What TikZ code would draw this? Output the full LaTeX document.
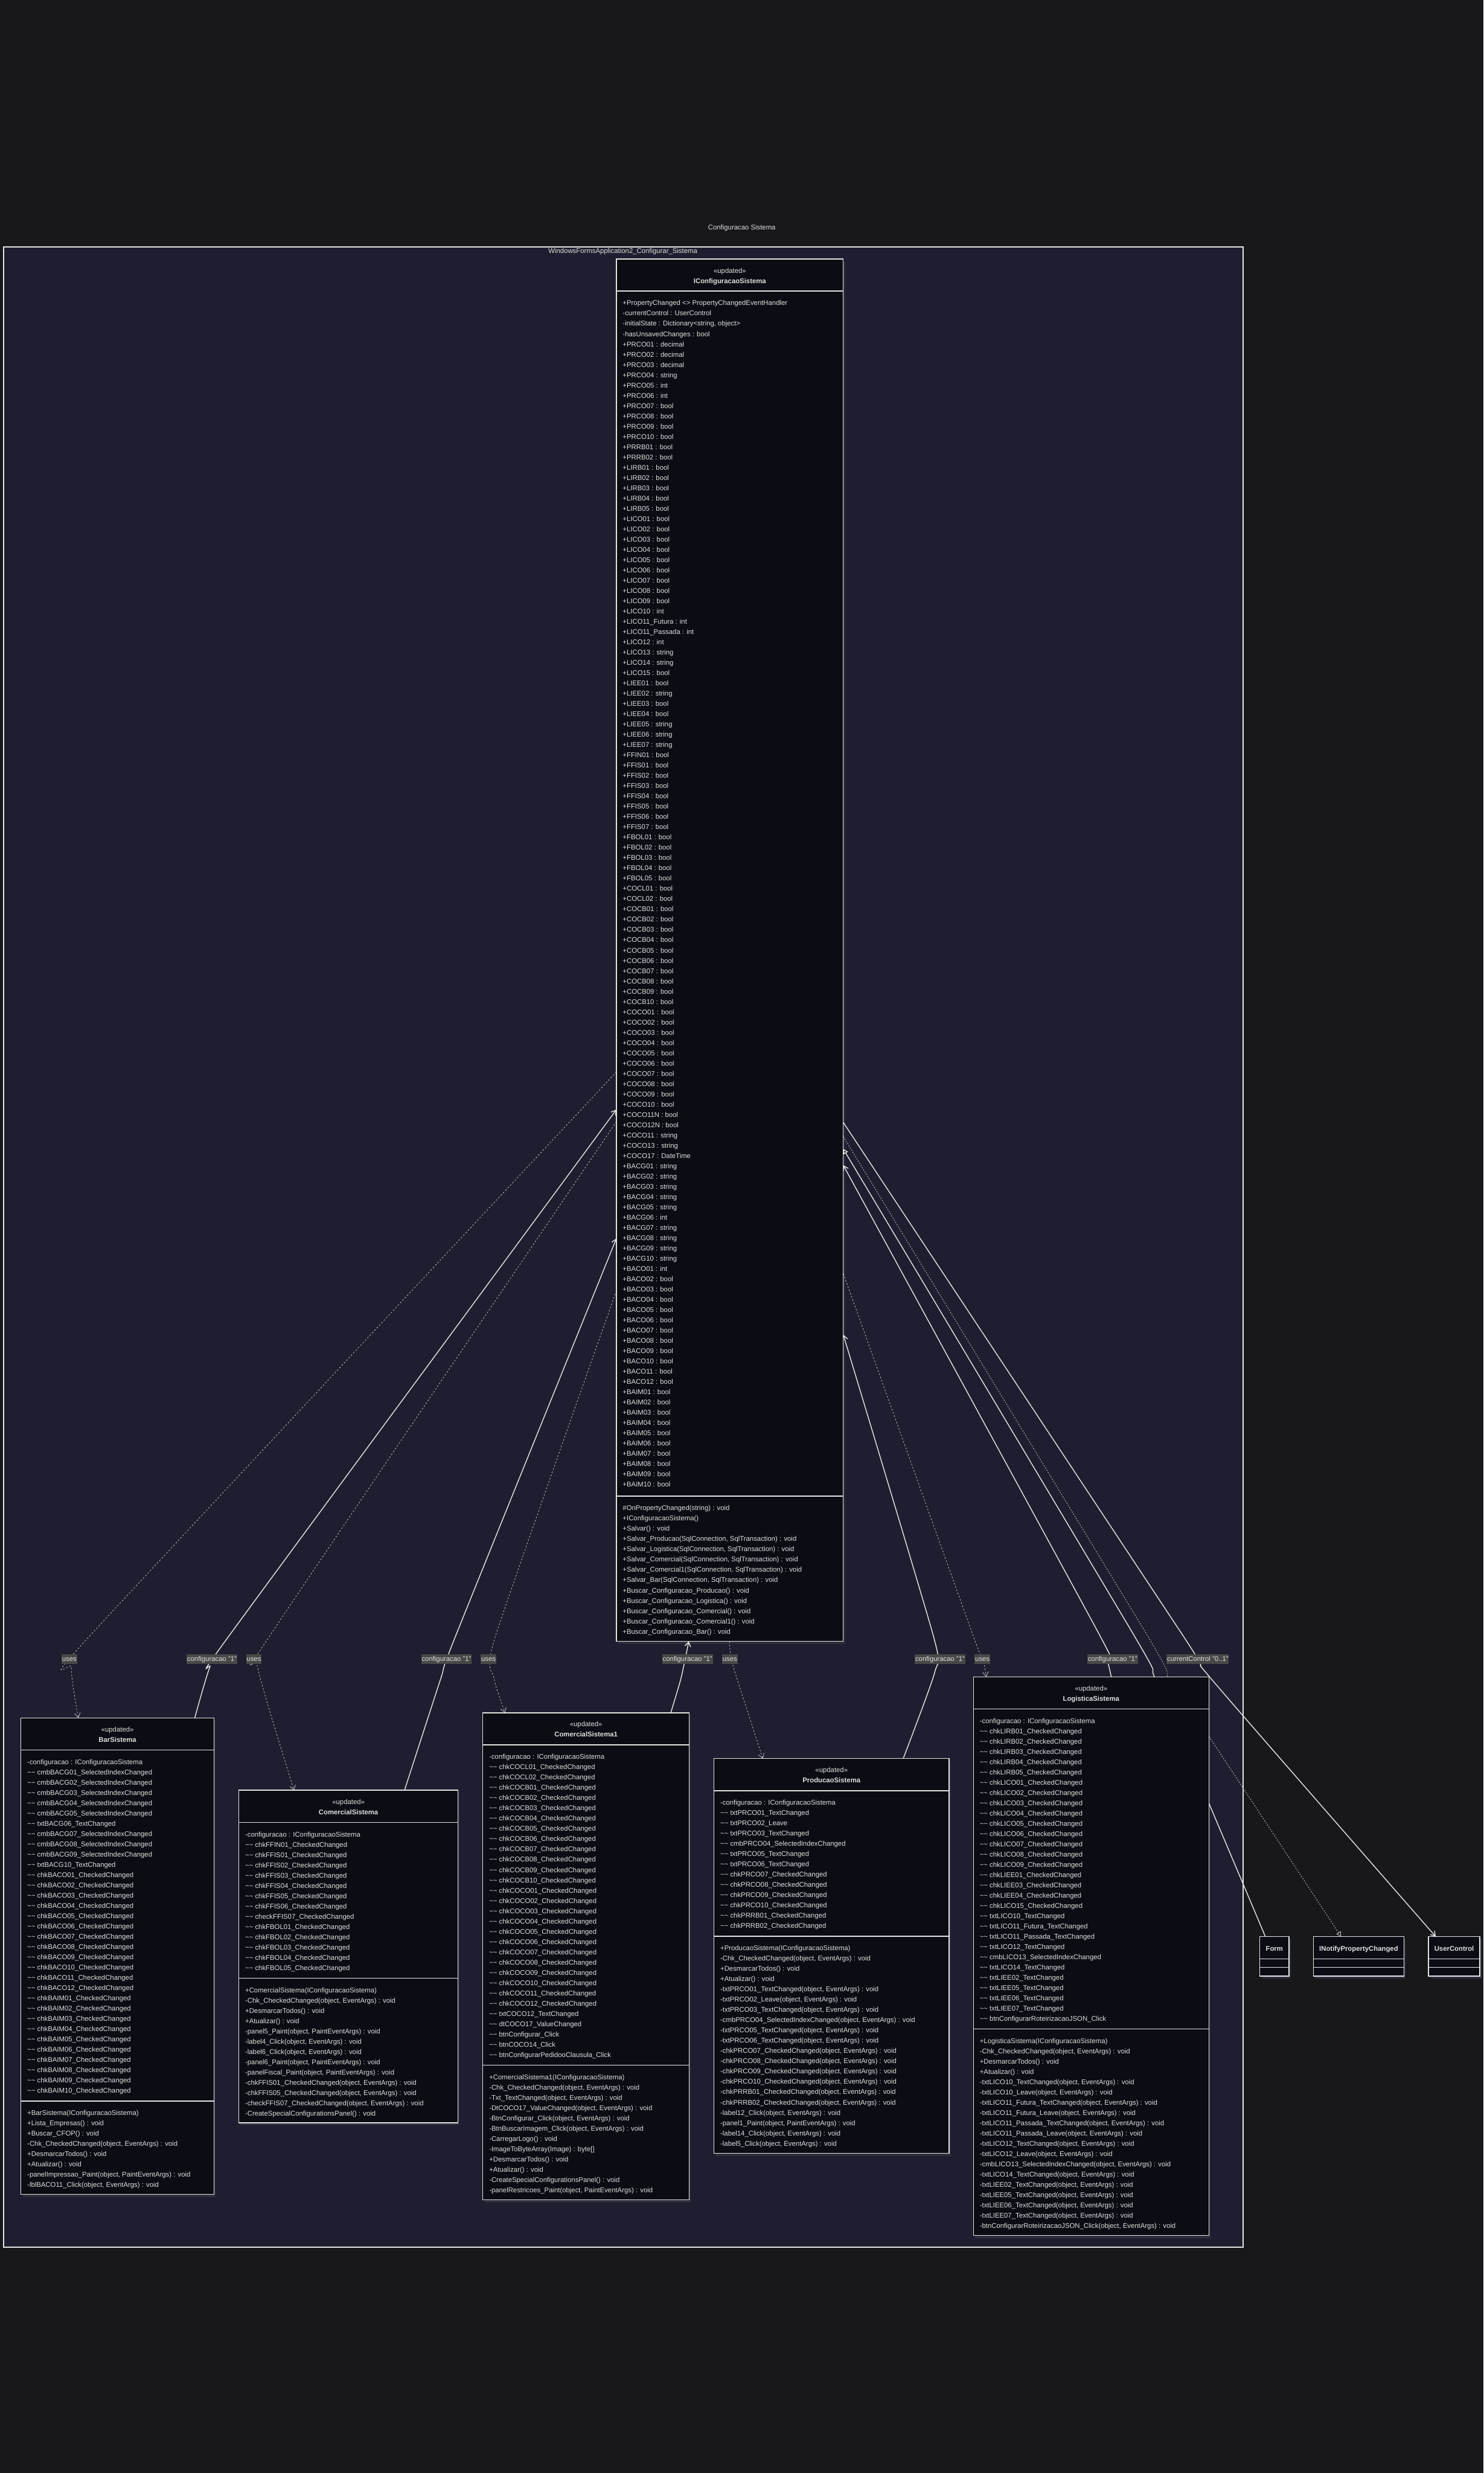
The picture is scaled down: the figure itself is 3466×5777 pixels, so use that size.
\documentclass[tikz,border=0pt]{standalone}
\usepackage{fontspec}
\setmainfont{Liberation Sans}
\usetikzlibrary{arrows.meta}
\pgfdeclarelayer{bgl}
\pgfdeclarelayer{shl}
\pgfdeclarelayer{edl}
\pgfsetlayers{bgl,shl,edl,main}
\definecolor{bgc}{RGB}{24,24,27}
\definecolor{pkgc}{RGB}{30,30,48}
\definecolor{clsc}{RGB}{12,13,20}
\definecolor{lnc}{RGB}{228,228,228}
\definecolor{dpc}{RGB}{200,200,205}
\definecolor{txc}{RGB}{222,222,222}
\definecolor{lblc}{RGB}{72,72,72}
\definecolor{shc}{RGB}{46,46,60}
\newcommand\tld{\textasciitilde\textasciitilde\ }
\newcommand\umlclass[9]{%
 \begin{pgfonlayer}{shl}\fill[shc] (#2+4,#4+6) rectangle (#3+4,#6+6);\end{pgfonlayer}
 \node[clsbox,anchor=north west,minimum width={(#3-#2)*0.25pt},minimum height={(#6-#4)*0.25pt}] (#1) at (#2,#4) {};
 \draw[clsline] (#2,#4+75) -- (#3,#4+75);
 \draw[clsline] (#2,#5) -- (#3,#5);
 \node[txt,anchor=north] (#1-h) at ({(#2+#3)/2},#4+15) {\begin{tabular}{@{}c@{}}«updated»\\\textbf{#7}\end{tabular}};
 \node[txt,anchor=north west] (#1-a) at (#2+14,#4+91) {\begin{tabular}{@{}l@{}}#8\end{tabular}};
 \node[txt,anchor=north west] (#1-m) at (#2+14,#5+16) {\begin{tabular}{@{}l@{}}#9\end{tabular}};
}
\newcommand\simplecls[4]{%
 \begin{pgfonlayer}{shl}\fill[shc] (#2+4,4530) rectangle (#3+4,4622);\end{pgfonlayer}
 \node[clsbox,anchor=north west,minimum width={(#3-#2)*0.25pt},minimum height={92*0.25pt}] (#1) at (#2,4524) {};
 \draw[clsline] (#2,4576) -- (#3,4576);
 \draw[clsline] (#2,4596) -- (#3,4596);
 \node[txt,anchor=base] (#1-h) at ({(#2+#3)/2},4557) {\textbf{#4}};
}
\begin{document}
\begin{tikzpicture}[x=0.25pt,y=-0.25pt,
 clsbox/.style={draw=lnc,fill=clsc,line width=0.5pt,inner sep=0pt,outer sep=0pt},
 clsline/.style={draw=lnc,line width=0.5pt},
 txt/.style={font=\fontsize{4}{6}\selectfont,text=txc,inner sep=0pt},
 lbl/.style={fill=lblc,text=txc,font=\fontsize{4}{6}\selectfont,inner xsep=0.3pt,inner ysep=0.75pt,text height=3pt,text depth=1pt},
 assoc/.style={draw=lnc,line width=0.5pt,-{Straight Barb[length=2.6pt,width=3.4pt]}},
 dep/.style={draw=dpc,line width=0.28pt,dash pattern=on 0.9pt off 1.1pt,-{Straight Barb[length=2.6pt,width=3.4pt]}},
 real/.style={draw=dpc,line width=0.3pt,dash pattern=on 0.7pt off 0.8pt,-{Triangle[open,length=2.8pt,width=3pt,fill=bgc]}},
 gen/.style={draw=lnc,line width=0.5pt}]
\useasboundingbox (0,0) rectangle (3466,5777);
\begin{pgfonlayer}{bgl}
\fill[bgc] (0,0) rectangle (3466,5777);
\node[draw=lnc,fill=pkgc,line width=0.6pt,anchor=north west,inner sep=0pt,minimum width={(2903-7)*0.25pt},minimum height={(5248-576)*0.25pt}] (pkg) at (7,576) {};
\end{pgfonlayer}
\node[txt] (title) at (1733,533) {Configuracao Sistema};
\node[txt] (pkgname) at (1455,588) {WindowsFormsApplication2\_Configurar\_Sistema};

\umlclass{iconf}{1440}{1970}{605}{3495}{3834}{IConfiguracaoSistema}{%
+PropertyChanged <> PropertyChangedEventHandler\\
-currentControl : UserControl\\
-initialState : Dictionary<string, object>\\
-hasUnsavedChanges : bool\\
+PRCO01 : decimal\\ +PRCO02 : decimal\\ +PRCO03 : decimal\\ +PRCO04 : string\\
+PRCO05 : int\\ +PRCO06 : int\\ +PRCO07 : bool\\ +PRCO08 : bool\\ +PRCO09 : bool\\ +PRCO10 : bool\\
+PRRB01 : bool\\ +PRRB02 : bool\\
+LIRB01 : bool\\ +LIRB02 : bool\\ +LIRB03 : bool\\ +LIRB04 : bool\\ +LIRB05 : bool\\
+LICO01 : bool\\ +LICO02 : bool\\ +LICO03 : bool\\ +LICO04 : bool\\ +LICO05 : bool\\
+LICO06 : bool\\ +LICO07 : bool\\ +LICO08 : bool\\ +LICO09 : bool\\
+LICO10 : int\\ +LICO11\_Futura : int\\ +LICO11\_Passada : int\\ +LICO12 : int\\
+LICO13 : string\\ +LICO14 : string\\ +LICO15 : bool\\
+LIEE01 : bool\\ +LIEE02 : string\\ +LIEE03 : bool\\ +LIEE04 : bool\\
+LIEE05 : string\\ +LIEE06 : string\\ +LIEE07 : string\\
+FFIN01 : bool\\
+FFIS01 : bool\\ +FFIS02 : bool\\ +FFIS03 : bool\\ +FFIS04 : bool\\ +FFIS05 : bool\\ +FFIS06 : bool\\ +FFIS07 : bool\\
+FBOL01 : bool\\ +FBOL02 : bool\\ +FBOL03 : bool\\ +FBOL04 : bool\\ +FBOL05 : bool\\
+COCL01 : bool\\ +COCL02 : bool\\
+COCB01 : bool\\ +COCB02 : bool\\ +COCB03 : bool\\ +COCB04 : bool\\ +COCB05 : bool\\
+COCB06 : bool\\ +COCB07 : bool\\ +COCB08 : bool\\ +COCB09 : bool\\ +COCB10 : bool\\
+COCO01 : bool\\ +COCO02 : bool\\ +COCO03 : bool\\ +COCO04 : bool\\ +COCO05 : bool\\
+COCO06 : bool\\ +COCO07 : bool\\ +COCO08 : bool\\ +COCO09 : bool\\ +COCO10 : bool\\
+COCO11N : bool\\ +COCO12N : bool\\ +COCO11 : string\\ +COCO13 : string\\ +COCO17 : DateTime\\
+BACG01 : string\\ +BACG02 : string\\ +BACG03 : string\\ +BACG04 : string\\ +BACG05 : string\\
+BACG06 : int\\ +BACG07 : string\\ +BACG08 : string\\ +BACG09 : string\\ +BACG10 : string\\
+BACO01 : int\\ +BACO02 : bool\\ +BACO03 : bool\\ +BACO04 : bool\\ +BACO05 : bool\\ +BACO06 : bool\\
+BACO07 : bool\\ +BACO08 : bool\\ +BACO09 : bool\\ +BACO10 : bool\\ +BACO11 : bool\\ +BACO12 : bool\\
+BAIM01 : bool\\ +BAIM02 : bool\\ +BAIM03 : bool\\ +BAIM04 : bool\\ +BAIM05 : bool\\
+BAIM06 : bool\\ +BAIM07 : bool\\ +BAIM08 : bool\\ +BAIM09 : bool\\ +BAIM10 : bool}{%
\#OnPropertyChanged(string) : void\\
+IConfiguracaoSistema()\\
+Salvar() : void\\
+Salvar\_Producao(SqlConnection, SqlTransaction) : void\\
+Salvar\_Logistica(SqlConnection, SqlTransaction) : void\\
+Salvar\_Comercial(SqlConnection, SqlTransaction) : void\\
+Salvar\_Comercial1(SqlConnection, SqlTransaction) : void\\
+Salvar\_Bar(SqlConnection, SqlTransaction) : void\\
+Buscar\_Configuracao\_Producao() : void\\
+Buscar\_Configuracao\_Logistica() : void\\
+Buscar\_Configuracao\_Comercial() : void\\
+Buscar\_Configuracao\_Comercial1() : void\\
+Buscar\_Configuracao\_Bar() : void}

\umlclass{bar}{49}{500}{4013}{4908}{5126}{BarSistema}{%
-configuracao : IConfiguracaoSistema\\
\tld cmbBACG01\_SelectedIndexChanged\\
\tld cmbBACG02\_SelectedIndexChanged\\
\tld cmbBACG03\_SelectedIndexChanged\\
\tld cmbBACG04\_SelectedIndexChanged\\
\tld cmbBACG05\_SelectedIndexChanged\\
\tld txtBACG06\_TextChanged\\
\tld cmbBACG07\_SelectedIndexChanged\\
\tld cmbBACG08\_SelectedIndexChanged\\
\tld cmbBACG09\_SelectedIndexChanged\\
\tld txtBACG10\_TextChanged\\
\tld chkBACO01\_CheckedChanged\\ \tld chkBACO02\_CheckedChanged\\ \tld chkBACO03\_CheckedChanged\\
\tld chkBACO04\_CheckedChanged\\ \tld chkBACO05\_CheckedChanged\\ \tld chkBACO06\_CheckedChanged\\
\tld chkBACO07\_CheckedChanged\\ \tld chkBACO08\_CheckedChanged\\ \tld chkBACO09\_CheckedChanged\\
\tld chkBACO10\_CheckedChanged\\ \tld chkBACO11\_CheckedChanged\\ \tld chkBACO12\_CheckedChanged\\
\tld chkBAIM01\_CheckedChanged\\ \tld chkBAIM02\_CheckedChanged\\ \tld chkBAIM03\_CheckedChanged\\
\tld chkBAIM04\_CheckedChanged\\ \tld chkBAIM05\_CheckedChanged\\ \tld chkBAIM06\_CheckedChanged\\
\tld chkBAIM07\_CheckedChanged\\ \tld chkBAIM08\_CheckedChanged\\ \tld chkBAIM09\_CheckedChanged\\
\tld chkBAIM10\_CheckedChanged}{%
+BarSistema(IConfiguracaoSistema)\\
+Lista\_Empresas() : void\\
+Buscar\_CFOP() : void\\
-Chk\_CheckedChanged(object, EventArgs) : void\\
+DesmarcarTodos() : void\\
+Atualizar() : void\\
-panelImpressao\_Paint(object, PaintEventArgs) : void\\
-lblBACO11\_Click(object, EventArgs) : void}

\umlclass{com}{558}{1070}{4182}{4621}{4959}{ComercialSistema}{%
-configuracao : IConfiguracaoSistema\\
\tld chkFFIN01\_CheckedChanged\\
\tld chkFFIS01\_CheckedChanged\\ \tld chkFFIS02\_CheckedChanged\\ \tld chkFFIS03\_CheckedChanged\\
\tld chkFFIS04\_CheckedChanged\\ \tld chkFFIS05\_CheckedChanged\\ \tld chkFFIS06\_CheckedChanged\\
\tld checkFFIS07\_CheckedChanged\\
\tld chkFBOL01\_CheckedChanged\\ \tld chkFBOL02\_CheckedChanged\\ \tld chkFBOL03\_CheckedChanged\\
\tld chkFBOL04\_CheckedChanged\\ \tld chkFBOL05\_CheckedChanged}{%
+ComercialSistema(IConfiguracaoSistema)\\
-Chk\_CheckedChanged(object, EventArgs) : void\\
+DesmarcarTodos() : void\\
+Atualizar() : void\\
-panel5\_Paint(object, PaintEventArgs) : void\\
-label4\_Click(object, EventArgs) : void\\
-label6\_Click(object, EventArgs) : void\\
-panel6\_Paint(object, PaintEventArgs) : void\\
-panelFiscal\_Paint(object, PaintEventArgs) : void\\
-chkFFIS01\_CheckedChanged(object, EventArgs) : void\\
-chkFFIS05\_CheckedChanged(object, EventArgs) : void\\
-checkFFIS07\_CheckedChanged(object, EventArgs) : void\\
-CreateSpecialConfigurationsPanel() : void}

\umlclass{comu}{1128}{1610}{4001}{4824}{5139}{ComercialSistema1}{%
-configuracao : IConfiguracaoSistema\\
\tld chkCOCL01\_CheckedChanged\\ \tld chkCOCL02\_CheckedChanged\\
\tld chkCOCB01\_CheckedChanged\\ \tld chkCOCB02\_CheckedChanged\\ \tld chkCOCB03\_CheckedChanged\\
\tld chkCOCB04\_CheckedChanged\\ \tld chkCOCB05\_CheckedChanged\\ \tld chkCOCB06\_CheckedChanged\\
\tld chkCOCB07\_CheckedChanged\\ \tld chkCOCB08\_CheckedChanged\\ \tld chkCOCB09\_CheckedChanged\\
\tld chkCOCB10\_CheckedChanged\\
\tld chkCOCO01\_CheckedChanged\\ \tld chkCOCO02\_CheckedChanged\\ \tld chkCOCO03\_CheckedChanged\\
\tld chkCOCO04\_CheckedChanged\\ \tld chkCOCO05\_CheckedChanged\\ \tld chkCOCO06\_CheckedChanged\\
\tld chkCOCO07\_CheckedChanged\\ \tld chkCOCO08\_CheckedChanged\\ \tld chkCOCO09\_CheckedChanged\\
\tld chkCOCO10\_CheckedChanged\\ \tld chkCOCO11\_CheckedChanged\\ \tld chkCOCO12\_CheckedChanged\\
\tld txtCOCO12\_TextChanged\\
\tld dtCOCO17\_ValueChanged\\
\tld btnConfigurar\_Click\\
\tld btnCOCO14\_Click\\
\tld btnConfigurarPedidooClausula\_Click}{%
+ComercialSistema1(IConfiguracaoSistema)\\
-Chk\_CheckedChanged(object, EventArgs) : void\\
-Txt\_TextChanged(object, EventArgs) : void\\
-DtCOCO17\_ValueChanged(object, EventArgs) : void\\
-BtnConfigurar\_Click(object, EventArgs) : void\\
-BtnBuscarImagem\_Click(object, EventArgs) : void\\
-CarregarLogo() : void\\
-ImageToByteArray(Image) : byte[]\\
+DesmarcarTodos() : void\\
+Atualizar() : void\\
-CreateSpecialConfigurationsPanel() : void\\
-panelRestricoes\_Paint(object, PaintEventArgs) : void}

\umlclass{prod}{1668}{2217}{4108}{4523}{5030}{ProducaoSistema}{%
-configuracao : IConfiguracaoSistema\\
\tld txtPRCO01\_TextChanged\\
\tld txtPRCO02\_Leave\\
\tld txtPRCO03\_TextChanged\\
\tld cmbPRCO04\_SelectedIndexChanged\\
\tld txtPRCO05\_TextChanged\\
\tld txtPRCO06\_TextChanged\\
\tld chkPRCO07\_CheckedChanged\\ \tld chkPRCO08\_CheckedChanged\\
\tld chkPRCO09\_CheckedChanged\\ \tld chkPRCO10\_CheckedChanged\\
\tld chkPRRB01\_CheckedChanged\\ \tld chkPRRB02\_CheckedChanged}{%
+ProducaoSistema(IConfiguracaoSistema)\\
-Chk\_CheckedChanged(object, EventArgs) : void\\
+DesmarcarTodos() : void\\
+Atualizar() : void\\
-txtPRCO01\_TextChanged(object, EventArgs) : void\\
-txtPRCO02\_Leave(object, EventArgs) : void\\
-txtPRCO03\_TextChanged(object, EventArgs) : void\\
-cmbPRCO04\_SelectedIndexChanged(object, EventArgs) : void\\
-txtPRCO05\_TextChanged(object, EventArgs) : void\\
-txtPRCO06\_TextChanged(object, EventArgs) : void\\
-chkPRCO07\_CheckedChanged(object, EventArgs) : void\\
-chkPRCO08\_CheckedChanged(object, EventArgs) : void\\
-chkPRCO09\_CheckedChanged(object, EventArgs) : void\\
-chkPRCO10\_CheckedChanged(object, EventArgs) : void\\
-chkPRRB01\_CheckedChanged(object, EventArgs) : void\\
-chkPRRB02\_CheckedChanged(object, EventArgs) : void\\
-label12\_Click(object, EventArgs) : void\\
-panel1\_Paint(object, PaintEventArgs) : void\\
-label14\_Click(object, EventArgs) : void\\
-label5\_Click(object, EventArgs) : void}

\umlclass{logi}{2274}{2824}{3917}{4740}{5222}{LogisticaSistema}{%
-configuracao : IConfiguracaoSistema\\
\tld chkLIRB01\_CheckedChanged\\ \tld chkLIRB02\_CheckedChanged\\ \tld chkLIRB03\_CheckedChanged\\
\tld chkLIRB04\_CheckedChanged\\ \tld chkLIRB05\_CheckedChanged\\
\tld chkLICO01\_CheckedChanged\\ \tld chkLICO02\_CheckedChanged\\ \tld chkLICO03\_CheckedChanged\\
\tld chkLICO04\_CheckedChanged\\ \tld chkLICO05\_CheckedChanged\\ \tld chkLICO06\_CheckedChanged\\
\tld chkLICO07\_CheckedChanged\\ \tld chkLICO08\_CheckedChanged\\ \tld chkLICO09\_CheckedChanged\\
\tld chkLIEE01\_CheckedChanged\\ \tld chkLIEE03\_CheckedChanged\\ \tld chkLIEE04\_CheckedChanged\\
\tld chkLICO15\_CheckedChanged\\
\tld txtLICO10\_TextChanged\\
\tld txtLICO11\_Futura\_TextChanged\\
\tld txtLICO11\_Passada\_TextChanged\\
\tld txtLICO12\_TextChanged\\
\tld cmbLICO13\_SelectedIndexChanged\\
\tld txtLICO14\_TextChanged\\
\tld txtLIEE02\_TextChanged\\ \tld txtLIEE05\_TextChanged\\ \tld txtLIEE06\_TextChanged\\
\tld txtLIEE07\_TextChanged\\
\tld btnConfigurarRoteirizacaoJSON\_Click}{%
+LogisticaSistema(IConfiguracaoSistema)\\
-Chk\_CheckedChanged(object, EventArgs) : void\\
+DesmarcarTodos() : void\\
+Atualizar() : void\\
-txtLICO10\_TextChanged(object, EventArgs) : void\\
-txtLICO10\_Leave(object, EventArgs) : void\\
-txtLICO11\_Futura\_TextChanged(object, EventArgs) : void\\
-txtLICO11\_Futura\_Leave(object, EventArgs) : void\\
-txtLICO11\_Passada\_TextChanged(object, EventArgs) : void\\
-txtLICO11\_Passada\_Leave(object, EventArgs) : void\\
-txtLICO12\_TextChanged(object, EventArgs) : void\\
-txtLICO12\_Leave(object, EventArgs) : void\\
-cmbLICO13\_SelectedIndexChanged(object, EventArgs) : void\\
-txtLICO14\_TextChanged(object, EventArgs) : void\\
-txtLIEE02\_TextChanged(object, EventArgs) : void\\
-txtLIEE05\_TextChanged(object, EventArgs) : void\\
-txtLIEE06\_TextChanged(object, EventArgs) : void\\
-txtLIEE07\_TextChanged(object, EventArgs) : void\\
-btnConfigurarRoteirizacaoJSON\_Click(object, EventArgs) : void}

\simplecls{form}{2943}{3011}{Form}
\simplecls{inpc}{3068}{3280}{INotifyPropertyChanged}
\simplecls{uctl}{3337}{3457}{UserControl}

% attachment points
\coordinate (e1s) at (iconf.west |- 0,2504);
\coordinate (e1t) at (183,0 |- bar.north);
\coordinate (e2s) at (455,0 |- bar.north);
\coordinate (e2t) at (iconf.west |- 0,2592);
\coordinate (e3s) at (iconf.west |- 0,2620);
\coordinate (e3t) at (687,0 |- com.north);
\coordinate (e4s) at (945,0 |- com.north);
\coordinate (e4t) at (iconf.west |- 0,2893);
\coordinate (e5s) at (iconf.west |- 0,3015);
\coordinate (e5t) at (1180,0 |- comu.north);
\coordinate (e6s) at (1567,0 |- comu.north);
\coordinate (e6t) at (1609,0 |- iconf.south);
\coordinate (e7s) at (1704,0 |- iconf.south);
\coordinate (e7t) at (1782,0 |- prod.north);
\coordinate (e8s) at (2110,0 |- prod.north);
\coordinate (e8t) at (iconf.east |- 0,3118);
\coordinate (e9s) at (iconf.east |- 0,2975);
\coordinate (e9t) at (2304,0 |- logi.north);
\coordinate (e10s) at (2596,0 |- logi.north);
\coordinate (e10t) at (iconf.east |- 0,2722);
\coordinate (e11s) at (2956,0 |- form.north);
\coordinate (e11t) at (iconf.east |- 0,2684);
\coordinate (e12s) at (iconf.east |- 0,2655);
\coordinate (e12t) at (3133,0 |- inpc.north);
\coordinate (e13s) at (iconf.east |- 0,2622);
\coordinate (e13t) at (3354,0 |- uctl.north);

\begin{pgfonlayer}{edl}
\draw[dep] plot[smooth,tension=0.35] coordinates {(e1s) (211,3820) (167,3895) (e1t)};
\draw[assoc] plot[smooth,tension=0.35] coordinates {(e2s) (490,3895) (536,3820) (e2t)};
\draw[dep] plot[smooth,tension=0.35] coordinates {(e3s) (631,3820) (602,3895) (e3t)};
\draw[assoc] plot[smooth,tension=0.35] coordinates {(e4s) (1030,3920) (1065,3820) (e4t)};
\draw[dep] plot[smooth,tension=0.35] coordinates {(e5s) (1158,3820) (1154,3920) (e5t)};
\draw[assoc] plot[smooth,tension=0.35] coordinates {(e6s) (1591,3920) (e6t)};
\draw[dep] plot[smooth,tension=0.35] coordinates {(e7s) (1712,3890) (e7t)};
\draw[assoc] plot[smooth,tension=0.35] coordinates {(e8s) (2184,3905) (2180,3820) (e8t)};
\draw[dep] plot[smooth,tension=0.35] coordinates {(e9s) (2273,3820) (2297,3880) (e9t)};
\draw[assoc] plot[smooth,tension=0.35] coordinates {(e10s) (2585,3870) (2569,3820) (e10t)};
\draw[gen,-{Triangle[open,length=2.8pt,width=3pt,fill=clsc]}] plot[smooth,tension=0.35] coordinates {(e11s) (2826,4217) (2698,3920) (2649,3820) (e11t)};
\draw[real] plot[smooth,tension=0.35] coordinates {(e12s) (2680,3820) (2730,3920) (2826,4059) (e12t)};
\draw[assoc] plot[smooth,tension=0.35] coordinates {(e13s) (2763,3820) (2828,3920) (e13t)};
\end{pgfonlayer}

% labels
\node[lbl] (l1) at (162,3876) {uses};
\node[lbl] (l2) at (495,3876) {configuracao "1"};
\node[lbl] (l3) at (593,3876) {uses};
\node[lbl] (l4) at (1043,3876) {configuracao "1"};
\node[lbl] (l5) at (1141,3876) {uses};
\node[lbl] (l6) at (1606,3876) {configuracao "1"};
\node[lbl] (l7) at (1705,3876) {uses};
\node[lbl] (l8) at (2196,3876) {configuracao "1"};
\node[lbl] (l9) at (2295,3876) {uses};
\node[lbl] (l10) at (2599,3876) {configuracao "1"};
\node[lbl] (l13) at (2798,3876) {currentControl "0..1"};
\end{tikzpicture}
\end{document}
